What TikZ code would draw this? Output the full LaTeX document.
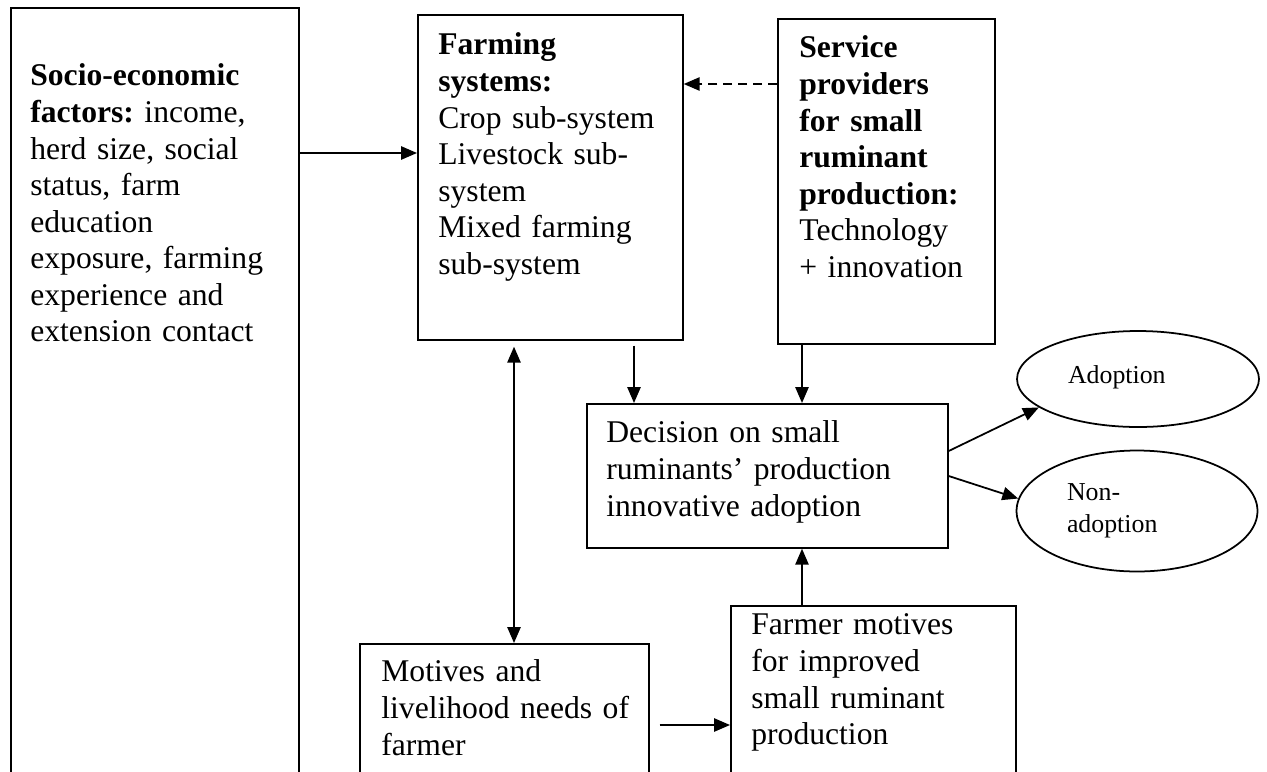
\documentclass[tikz,border=0pt]{standalone}
\usepackage{fontspec}
\setmainfont{Liberation Serif}
\usepackage{tikz}
\usetikzlibrary{arrows.meta,calc,shapes.geometric}
\frenchspacing

\tikzset{
    block/.style={draw, line width=1pt, inner sep=0pt, anchor=north west},
    txt/.style={inner sep=0pt, anchor=north west, align=left, text width=6.4cm,
      font=\fontsize{18}{20.8}\selectfont, execute at begin node=\strut},
    oval/.style={draw, ellipse, line width=1pt, inner sep=0pt, align=left, text width=2.8cm,
      font=\fontsize{14.7}{18.1}\selectfont},
    ftip/.tip={Triangle[length=9pt, width=7.5pt]},
    arr/.style={-ftip, line width=1pt}
}

\begin{document}
\begin{tikzpicture}[x=0.02cm, y=-0.02cm]
    \useasboundingbox (0,0) rectangle (1267,771);
    \clip (0,0) rectangle (1267,771);

    \node [block, minimum width=5.76cm, minimum height=16.26cm] (socio) at (10,7) {};
    \node [block, minimum width=5.30cm, minimum height=6.50cm] (farm) at (417,14) {};
    \node [block, minimum width=4.34cm, minimum height=6.50cm] (serv) at (777,18) {};
    \node [block, minimum width=7.22cm, minimum height=2.88cm] (dec) at (586,403) {};
    \node [block, minimum width=5.70cm, minimum height=4.30cm] (fmot) at (730,605) {};
    \node [block, minimum width=5.78cm, minimum height=3.54cm] (motv) at (359,643) {};

    \node [txt] (socio-t) at ($(socio.north west)+(20,53)$)
      {\textbf{Socio-economic}\\ \textbf{factors:} income,\\ herd size, social\\ status, farm\\
       education\\ exposure, farming\\ experience and\\ extension contact};
    \node [txt] (farm-t) at ($(farm.north west)+(21,15)$)
      {\textbf{Farming}\\ \textbf{systems:}\\ Crop sub-system\\ Livestock sub-\\ system\\
       Mixed farming\\ sub-system};
    \node [txt] (serv-t) at ($(serv.north west)+(22,14)$)
      {\textbf{Service}\\ \textbf{providers}\\ \textbf{for small}\\ \textbf{ruminant}\\
       \textbf{production:}\\ Technology\\ + innovation};
    \node [txt] (dec-t) at ($(dec.north west)+(20,14)$)
      {Decision on small\\ ruminants' production\\ innovative adoption};
    \node [txt] (fmot-t) at ($(fmot.north west)+(21,4)$)
      {Farmer motives\\ for improved\\ small ruminant\\ production};
    \node [txt] (motv-t) at ($(motv.north west)+(22,13)$)
      {Motives and\\ livelihood needs of\\ farmer};

    \node [oval, minimum width=4.84cm, minimum height=1.92cm, text depth=0.5em] (adopt) at (1138,379) {Adoption};
    \node [oval, minimum width=4.82cm, minimum height=2.42cm] (nonad) at (1137,511) {Non-\\adoption};

    \draw [arr] ($(socio.north east)+(0,146)$) -- ($(farm.north west)+(0,139)$);
    \draw [arr, dash pattern=on 5pt off 3.5pt] ($(serv.north west)+(0,66)$) -- ($(farm.north east)+(0,70)$);
    \draw [ftip-ftip, line width=1pt] ($(farm.south west)+(97,6)$) -- ($(motv.north west)+(155,0)$);
    \draw [arr] ($(farm.south west)+(217,5)$) -- ($(dec.north west)+(48,0)$);
    \draw [arr] ($(serv.south west)+(25,0)$) -- ($(dec.north west)+(216,0)$);
    \draw [arr] ($(fmot.north west)+(72,0)$) -- ($(dec.south west)+(216,0)$);
    \draw [arr] ($(motv.north east)+(10,82)$) -- ($(fmot.north west)+(0,120)$);
    \draw [arr] ($(dec.north east)+(0,48)$) -- (adopt.196);
    \draw [arr] ($(dec.north east)+(0,73)$) -- (nonad.174);
\end{tikzpicture}
\end{document}
